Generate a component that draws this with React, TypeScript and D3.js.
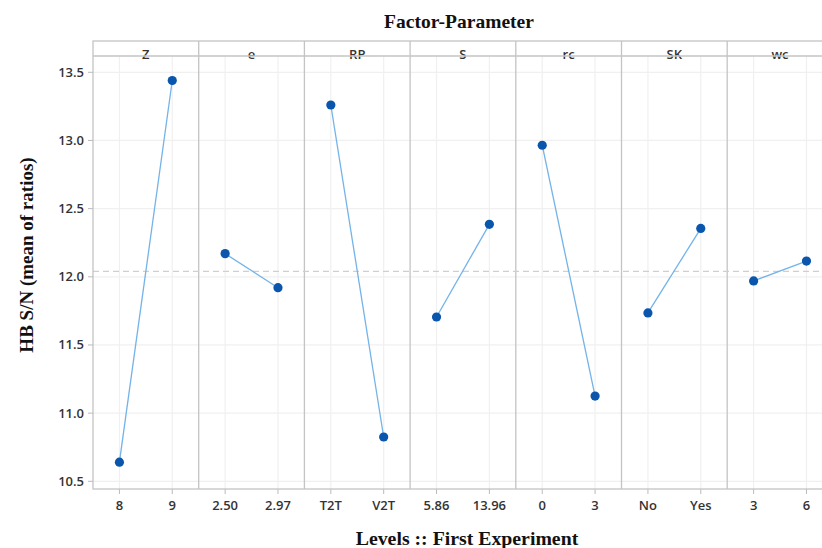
import React from "react";
import * as d3 from "d3";

// Main effects of each factor on the S/N ratio (mean of ratios)
const factors = ["Z", "e", "RP", "S", "rc", "SK", "wc"];
const levelLabels = [
  ["8", "9"],
  ["2.50", "2.97"],
  ["T2T", "V2T"],
  ["5.86", "13.96"],
  ["0", "3"],
  ["No", "Yes"],
  ["3", "6"],
];
const meanSN = [
  [10.64, 13.44],
  [12.17, 11.92],
  [13.26, 10.825],
  [11.705, 12.385],
  [12.965, 11.125],
  [11.735, 12.355],
  [11.97, 12.115],
];
const overallMean = 12.04;
const yTicks = [10.5, 11.0, 11.5, 12.0, 12.5, 13.0, 13.5];

const W = 822;
const H = 548;
const plotLeft = 93;
const panelW = 105.7;
const plotTop = 41;
const stripBottom = 56;
const plotBottom = 489;

export default function App() {
  const y = d3.scaleLinear().domain([10.5, 13.5]).range([481.3, 72.3]);
  const panelX = d3
    .scaleBand<string>()
    .domain(factors)
    .range([plotLeft, plotLeft + panelW * factors.length])
    .padding(0);
  const plotRight = plotLeft + panelW * factors.length;
  const tickFont = "'Open Sans', 'DejaVu Sans', sans-serif";
  const serif = "'Liberation Serif', 'Times New Roman', serif";

  const levelScale = (i: number) => {
    const x0 = panelX(factors[i])!;
    return d3
      .scalePoint<string>()
      .domain(levelLabels[i])
      .range([x0, x0 + panelW])
      .padding(0.5);
  };

  return (
    <svg
      width={W}
      height={H}
      style={{ position: "absolute", left: 0, top: 0, background: "#fff" }}
    >
      {/* title */}
      <text
        x={459}
        y={28}
        textAnchor="middle"
        fontFamily={serif}
        fontWeight="bold"
        fontSize={19.5}
        fill="#111"
      >
        Factor-Parameter
      </text>

      {/* horizontal gridlines */}
      {yTicks.map((t) => (
        <line
          key={"hg" + t}
          x1={plotLeft}
          x2={plotRight}
          y1={y(t)}
          y2={y(t)}
          stroke="#f0f0f0"
          strokeWidth={1.2}
        />
      ))}

      {factors.map((f, i) => {
        const x0 = panelX(f)!;
        const lx = levelScale(i);
        return (
          <g key={f}>
            {levelLabels[i].map((l) => (
              <g key={l}>
                <line
                  x1={lx(l)}
                  x2={lx(l)}
                  y1={stripBottom}
                  y2={plotBottom}
                  stroke="#f0f0f0"
                  strokeWidth={1.2}
                />
                <line
                  x1={lx(l)}
                  x2={lx(l)}
                  y1={plotBottom}
                  y2={plotBottom + 5}
                  stroke="#bbb"
                />
                <text
                  x={lx(l)}
                  y={510}
                  textAnchor="middle"
                  fontFamily={tickFont}
                  fontWeight={600}
                  fontSize={13}
                  fill="#333"
                >
                  {l}
                </text>
              </g>
            ))}
            {i > 0 && (
              <line
                x1={x0}
                x2={x0}
                y1={plotTop}
                y2={plotBottom}
                stroke="#c4c4c4"
                strokeWidth={1.3}
              />
            )}
            <text
              x={x0 + panelW / 2}
              y={59}
              textAnchor="middle"
              fontFamily={tickFont}
              fontWeight={600}
              fontSize={13}
              fill="#333"
            >
              {f}
            </text>
          </g>
        );
      })}

      {/* overall mean reference line */}
      <line
        x1={plotLeft}
        x2={plotRight}
        y1={y(overallMean)}
        y2={y(overallMean)}
        stroke="#cfcfcf"
        strokeWidth={1.3}
        strokeDasharray="6,4"
      />

      {/* frame */}
      <rect
        x={plotLeft}
        y={plotTop}
        width={plotRight - plotLeft}
        height={plotBottom - plotTop}
        fill="none"
        stroke="#c4c4c4"
        strokeWidth={1.3}
      />
      <line
        x1={plotLeft}
        x2={plotRight}
        y1={stripBottom}
        y2={stripBottom}
        stroke="#c4c4c4"
        strokeWidth={1.3}
      />

      {/* effect lines and points */}
      {factors.map((f, i) => {
        const lx = levelScale(i);
        const pts = levelLabels[i].map(
          (l, j) => [lx(l)!, y(meanSN[i][j])] as [number, number]
        );
        return (
          <g key={"m" + f}>
            <path
              d={d3.line()(pts) as string}
              fill="none"
              stroke="#74b3e8"
              strokeWidth={1.3}
            />
            {pts.map((p, j) => (
              <circle key={j} cx={p[0]} cy={p[1]} r={4.6} fill="#0a56ad" />
            ))}
          </g>
        );
      })}

      {/* y axis ticks */}
      {yTicks.map((t) => (
        <g key={"yt" + t}>
          <line x1={plotLeft - 5} x2={plotLeft} y1={y(t)} y2={y(t)} stroke="#bbb" />
          <text
            x={84}
            y={y(t) + 4.5}
            textAnchor="end"
            fontFamily={tickFont}
            fontWeight={600}
            fontSize={13}
            fill="#333"
          >
            {t.toFixed(1)}
          </text>
        </g>
      ))}

      {/* axis titles */}
      <text
        x={467}
        y={545}
        textAnchor="middle"
        fontFamily={serif}
        fontWeight="bold"
        fontSize={19.8}
        fill="#111"
      >
        Levels :: First Experiment
      </text>
      <text
        transform="translate(33,255) rotate(-90)"
        textAnchor="middle"
        fontFamily={serif}
        fontWeight="bold"
        fontSize={19}
        fill="#111"
      >
        HB S/N (mean of ratios)
      </text>
    </svg>
  );
}
